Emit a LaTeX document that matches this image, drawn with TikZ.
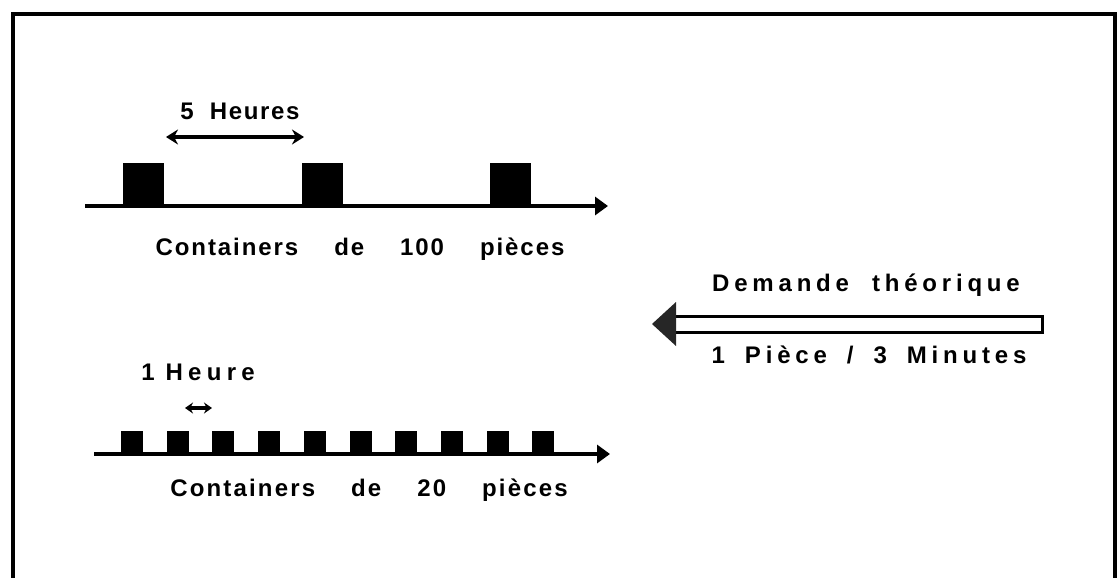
\documentclass[tikz,border=0pt]{standalone}
\usepackage{fontspec}
\setmainfont{Liberation Sans}
\usetikzlibrary{arrows.meta}
\newcommand\esp[3]{{\addfontfeatures{LetterSpace=#1}\spaceskip=#2pt\relax #3}}
\tikzset{
  lbl/.style={font=\bfseries\fontsize{24}{28}\selectfont, anchor=base, inner sep=0pt},
  axe/.style={line width=3.2pt, -{Triangle[length=13pt,width=18pt]}},
}
\begin{document}
\begin{tikzpicture}[x=1pt, y=-1pt, >={Stealth[length=12pt,width=15pt]}]
\useasboundingbox (0,0) rectangle (1119,578);
% cadre
\draw[line width=3.5pt] (13,580)--(13,14)--(1115,14)--(1115,580);

% containers de 100
\coordinate (h0) at (85,206);
\coordinate (h1) at (608,206);
\draw[axe] (h0)--(h1);
\foreach \x in {123,302,490}
{
    \fill (\x,163) rectangle (\x+41,206);
}
\node[lbl] (cinq) at (240,119) {\esp{7}{16}{5 Heures}};
\coordinate (c0) at (166,137);
\coordinate (c1) at (304,137);
\draw[<->, line width=3.2pt] (c0)--(c1);
\node[lbl] (cent) at (360,255) {\esp{8}{36}{Containers de 100 pièces}};

% containers de 20
\coordinate (b0) at (94,454);
\coordinate (b1) at (610,454);
\draw[axe] (b0)--(b1);
\foreach \i in {0,...,9}
{
    \fill ({121+45.7*\i},431) rectangle ({121+45.7*\i+22},454);
}
\node[lbl] (une) at (198,380) {\esp{22}{11}{1 Heure}};
\coordinate (u0) at (185,408);
\coordinate (u1) at (212,408);
\draw[<->, line width=3.2pt, >={Stealth[length=8pt,width=11pt]}] (u0)--(u1);
\node[lbl] (vingt) at (369,496) {\esp{9}{36}{Containers de 20 pièces}};

% demande
\draw[line width=3pt, fill=white] (1042,316) rectangle (674,332);
\fill[black!85] (652,324)--(676,302)--(676,346)--cycle;
\node[lbl] (dem) at (866,291) {\esp{20}{23}{Demande théorique}};
\node[lbl] (min) at (869,363) {\esp{20}{20}{1 Pièce / 3 Minutes}};

\end{tikzpicture}
\end{document}
